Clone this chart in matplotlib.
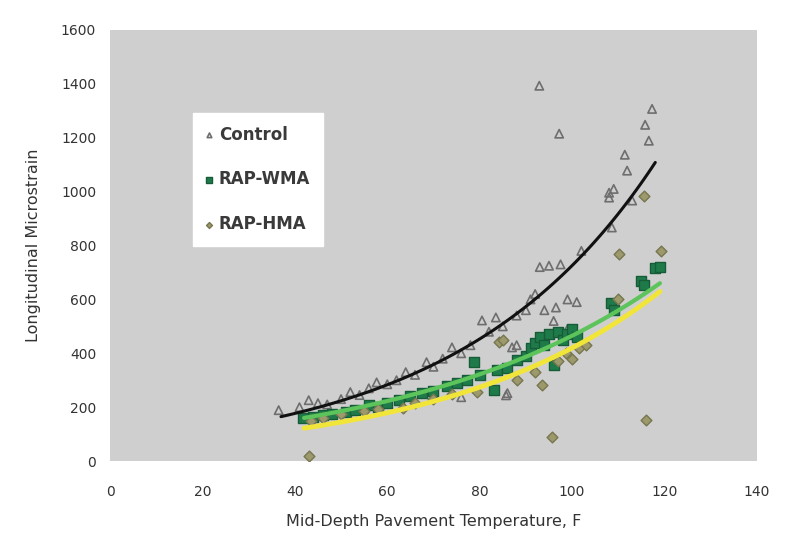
import numpy as np
import matplotlib
matplotlib.use("Agg")
import matplotlib.pyplot as plt

# Control (open triangles)
control_x = [36.5, 41, 43, 45, 47, 50, 52, 54, 56, 57.7, 60, 62, 64, 66, 68.5, 70, 72, 74,
             76, 76, 78, 80.5, 82, 83.5, 85, 85.7, 86, 87, 88, 88, 90, 91, 92, 92.9, 93, 94,
             94, 95, 96, 96.5, 97.2, 97.5, 98, 99, 99, 101, 102, 108, 108, 108.6, 109,
             111.4, 111.9, 113, 115.8, 116.6, 117.3]
control_y = [189, 200, 226, 215, 210, 230, 256, 245, 270, 292, 285, 300, 330, 320, 367, 350, 380, 422,
             237, 400, 430, 522, 480, 533, 500, 244, 252, 422, 430, 540, 560, 600, 620, 1393, 720, 560,
             460, 725, 520, 570, 1215, 730, 470, 600, 490, 590, 780, 996, 978, 867, 1010,
             1137, 1078, 967, 1248, 1189, 1307]

# RAP-WMA (green squares)
wma_x = [41.7, 44, 46, 48, 51, 53, 56, 58, 60, 62.6, 65, 67.6, 70, 73, 75, 77.3, 78.8, 80, 83,
         83.8, 86, 88, 90, 91, 92, 93, 94, 95, 96, 97, 98, 99, 100, 101, 108.4, 109, 115, 115.5,
         118, 119]
wma_y = [159, 165, 170, 175, 181, 190, 207, 200, 215, 226, 240, 252, 260, 280, 290, 300, 367, 320, 263,
         337, 345, 374, 390, 420, 440, 460, 430, 470, 355, 480, 450, 470, 490, 460, 585, 560, 670, 652,
         718, 720]

# RAP-HMA (diamonds)
hma_x = [43, 43.5, 46, 50, 55, 58, 63.3, 66, 70, 74, 79.5, 84.2, 85, 88, 92, 93.5, 95.7, 97, 98.7,
         100, 101.5, 103, 110.2, 110, 115.6, 116, 119.2]
hma_y = [19, 150, 160, 175, 185, 195, 196, 215, 230, 250, 256, 441, 448, 300, 330, 281, 89, 370, 400,
         380, 418, 430, 770, 600, 985, 152, 778]

# exponential trend lines y = a * exp(b * x)
control_fit = (69.0, 0.02353, 37, 118)
wma_fit = (73.9, 0.0184, 42, 119)
hma_fit = (49.9, 0.0213, 42, 119)

fig = plt.figure(figsize=(7.88, 5.45), dpi=100)
ax = fig.add_axes([0.1396, 0.154, 0.821, 0.791])
ax.set_facecolor('#cfcfcf')
for s in ax.spines.values():
    s.set_visible(False)

ax.scatter(control_x, control_y, marker='^', s=36, facecolors='none',
           edgecolors='#6e6e6e', linewidths=1.2, label='Control', zorder=3)
ax.scatter(wma_x, wma_y, marker='s', s=45, color='#1f7a4a', edgecolors='#165c36',
           label='RAP-WMA', zorder=3)
ax.scatter(hma_x, hma_y, marker='D', s=30, color='#9c9a6c', edgecolors='#77764f',
           label='RAP-HMA', zorder=3)

def trend(fit, color, lw):
    a, b, x0, x1 = fit
    xs = np.linspace(x0, x1, 100)
    ax.plot(xs, a * np.exp(b * xs), color=color, lw=lw, zorder=4, solid_capstyle='round')

trend(hma_fit, '#f2e53a', 3.5)
trend(wma_fit, '#5cc45a', 3)
trend(control_fit, '#111111', 2.2)

ax.set_xlim(0, 140)
ax.set_ylim(0, 1600)
ax.set_xticks(np.arange(0, 141, 20))
ax.set_yticks(np.arange(0, 1601, 200))
ax.tick_params(length=0, labelsize=10, colors='#333333')
ax.tick_params(axis='x', pad=17)
ax.tick_params(axis='y', pad=10)
ax.set_xlabel('Mid-Depth Pavement Temperature, F', fontsize=11.5, color='#333333', labelpad=11)
ax.set_ylabel('Longitudinal Microstrain', fontsize=11.5, color='#333333', labelpad=14)

leg = ax.legend(loc='upper left', bbox_to_anchor=(0.128, 0.807), frameon=True,
                fancybox=False, edgecolor='white', facecolor='white', framealpha=1,
                prop={'size': 12, 'weight': 'bold'}, labelspacing=1.6, handlelength=0.5,
                handletextpad=0.3, borderpad=0.75, markerscale=0.55, borderaxespad=0)
for t in leg.get_texts():
    t.set_color('#3a3a3a')

fig.savefig('out.png', dpi=100, facecolor='white')
